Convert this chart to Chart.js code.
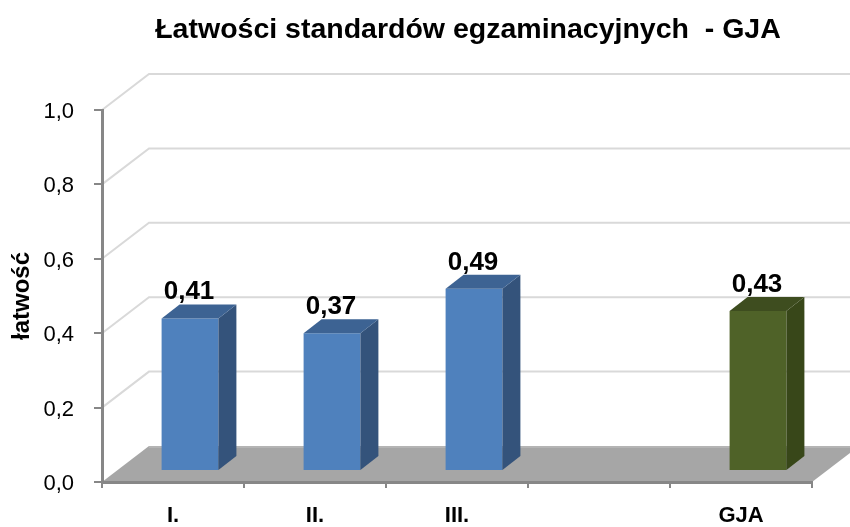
<!DOCTYPE html>
<html><head><meta charset="utf-8">
<script src="https://cdn.jsdelivr.net/npm/chart.js@4.4.1/dist/chart.umd.min.js"></script>
<style>html,body{margin:0;padding:0;background:#fff;overflow:hidden}</style>
</head><body>
<canvas id="c" width="850" height="527" style="width:850px;height:527px;display:block"></canvas>
<script>
// ---- data ----
const categories = ['I.', 'II.', 'III.', '', 'GJA'];
const values = [0.41, 0.37, 0.49, null, 0.43];
const yTickValues = [0, 0.2, 0.4, 0.6, 0.8, 1.0];
const yTickLabels = ['0,0', '0,2', '0,4', '0,6', '0,8', '1,0'];
const titleText = 'Łatwości standardów egzaminacyjnych  - GJA';
const yAxisTitle = 'łatwość';

// ---- styles ----
const FRONT = ['#4F81BD', '#4F81BD', '#4F81BD', '#4F81BD', '#4F6228'];
const SIDE  = ['#34537B', '#34537B', '#34537B', '#34537B', '#384719'];
const TOPC  = ['#3D6393', '#3D6393', '#3D6393', '#3D6393', '#3E4D1F'];
const WALL = {dx: 47, dy: -36};
const SHIFT = {dx: 17, dy: -11};
const DEPTH = {dx: 18, dy: -14};
const FONT = '"Liberation Sans", Arial, sans-serif';
const fmt = v => v.toFixed(2).replace('.', ',');

const threeD = {
  id: 'threeD',
  beforeDraw(chart) {
    const {ctx, chartArea: a, scales: {y}} = chart;
    ctx.save();
    ctx.fillStyle = '#ffffff';
    ctx.fillRect(0, 0, chart.width, chart.height);
    const y0 = y.getPixelForValue(0);
    // floor
    ctx.fillStyle = '#A6A6A6';
    ctx.beginPath();
    ctx.moveTo(a.left, y0);
    ctx.lineTo(a.left + WALL.dx, y0 + WALL.dy);
    ctx.lineTo(a.right + WALL.dx, y0 + WALL.dy);
    ctx.lineTo(a.right, y0);
    ctx.closePath();
    ctx.fill();
    ctx.strokeStyle = '#B4B4B4';
    ctx.lineWidth = 2;
    ctx.beginPath();
    ctx.moveTo(a.left + WALL.dx, y0 + WALL.dy + 1);
    ctx.lineTo(chart.width + 10, y0 + WALL.dy + 1);
    ctx.stroke();
    // back wall + side wall gridlines
    ctx.strokeStyle = '#D9D9D9';
    ctx.lineWidth = 2;
    yTickValues.forEach(v => {
      if (v === 0) return;
      const py = y.getPixelForValue(v);
      ctx.beginPath();
      ctx.moveTo(a.left, py);
      ctx.lineTo(a.left + WALL.dx, py + WALL.dy);
      ctx.lineTo(chart.width + 10, py + WALL.dy);
      ctx.stroke();
    });
    ctx.restore();
  },
  beforeDatasetsDraw(chart) {
    chart.ctx.save();
    chart.ctx.translate(SHIFT.dx, SHIFT.dy);
  },
  afterDatasetsDraw(chart) {
    const ctx = chart.ctx;
    const meta = chart.getDatasetMeta(0);
    meta.data.forEach((bar, i) => {
      if (values[i] === null || values[i] === undefined) return;
      const {x, y, base, width} = bar.getProps(['x', 'y', 'base', 'width'], true);
      const l = x - width / 2, r = x + width / 2;
      // side face
      ctx.fillStyle = SIDE[i];
      ctx.beginPath();
      ctx.moveTo(r, y);
      ctx.lineTo(r + DEPTH.dx, y + DEPTH.dy);
      ctx.lineTo(r + DEPTH.dx, base + DEPTH.dy);
      ctx.lineTo(r, base);
      ctx.closePath();
      ctx.fill();
      // top face
      ctx.fillStyle = TOPC[i];
      ctx.beginPath();
      ctx.moveTo(l, y);
      ctx.lineTo(l + DEPTH.dx, y + DEPTH.dy);
      ctx.lineTo(r + DEPTH.dx, y + DEPTH.dy);
      ctx.lineTo(r, y);
      ctx.closePath();
      ctx.fill();
      // value label
      ctx.fillStyle = '#000000';
      ctx.font = 'bold 26px ' + FONT;
      ctx.textAlign = 'center';
      ctx.textBaseline = 'alphabetic';
      ctx.fillText(fmt(values[i]), x - 1, y - 19);
    });
    ctx.restore();
  },
  afterDraw(chart) {
    const ctx = chart.ctx;
    ctx.save();
    ctx.fillStyle = '#000000';
    ctx.font = 'bold 28.5px ' + FONT;
    ctx.textAlign = 'center';
    ctx.textBaseline = 'alphabetic';
    ctx.fillText(titleText, 468, 38);
    ctx.restore();
  }
};

new Chart(document.getElementById('c'), {
  type: 'bar',
  data: {
    labels: categories,
    datasets: [{
      data: values,
      backgroundColor: FRONT,
      borderWidth: 0,
      barPercentage: 0.8,
      categoryPercentage: 0.5,
      clip: false
    }]
  },
  options: {
    responsive: false,
    animation: false,
    events: [],
    devicePixelRatio: 1,
    layout: {padding: {top: 110, right: 38, bottom: 0, left: 0}},
    plugins: {legend: {display: false}, tooltip: {enabled: false}, title: {display: false}},
    scales: {
      x: {
        afterFit(s) { s.height = 45; },
        grid: {display: true, drawOnChartArea: false, drawTicks: true, tickLength: 6, color: '#878787', lineWidth: 2, offset: true},
        border: {display: true, color: '#878787', width: 3},
        ticks: {color: '#000000', padding: 15, maxRotation: 0, autoSkip: false,
          font: {family: FONT, size: 22, weight: 'bold'}}
      },
      y: {
        min: 0, max: 1,
        afterFit(s) { s.width = 102; },
        afterBuildTicks(s) { s.ticks = yTickValues.map(v => ({value: v})); },
        grid: {display: true, drawOnChartArea: false, drawTicks: true, tickLength: 8, color: '#878787', lineWidth: 2},
        border: {display: true, color: '#878787', width: 3},
        ticks: {
          color: '#000000', padding: 20, labelOffset: 2,
          font: {family: FONT, size: 22},
          callback(v) { const i = yTickValues.findIndex(t => Math.abs(t - v) < 1e-6); return i >= 0 ? yTickLabels[i] : ''; }
        },
        title: {display: true, text: yAxisTitle, color: '#000000', padding: {top: 8, bottom: 0},
          font: {family: FONT, size: 24, weight: 'bold'}}
      }
    }
  },
  plugins: [threeD]
});
</script>
</body></html>
